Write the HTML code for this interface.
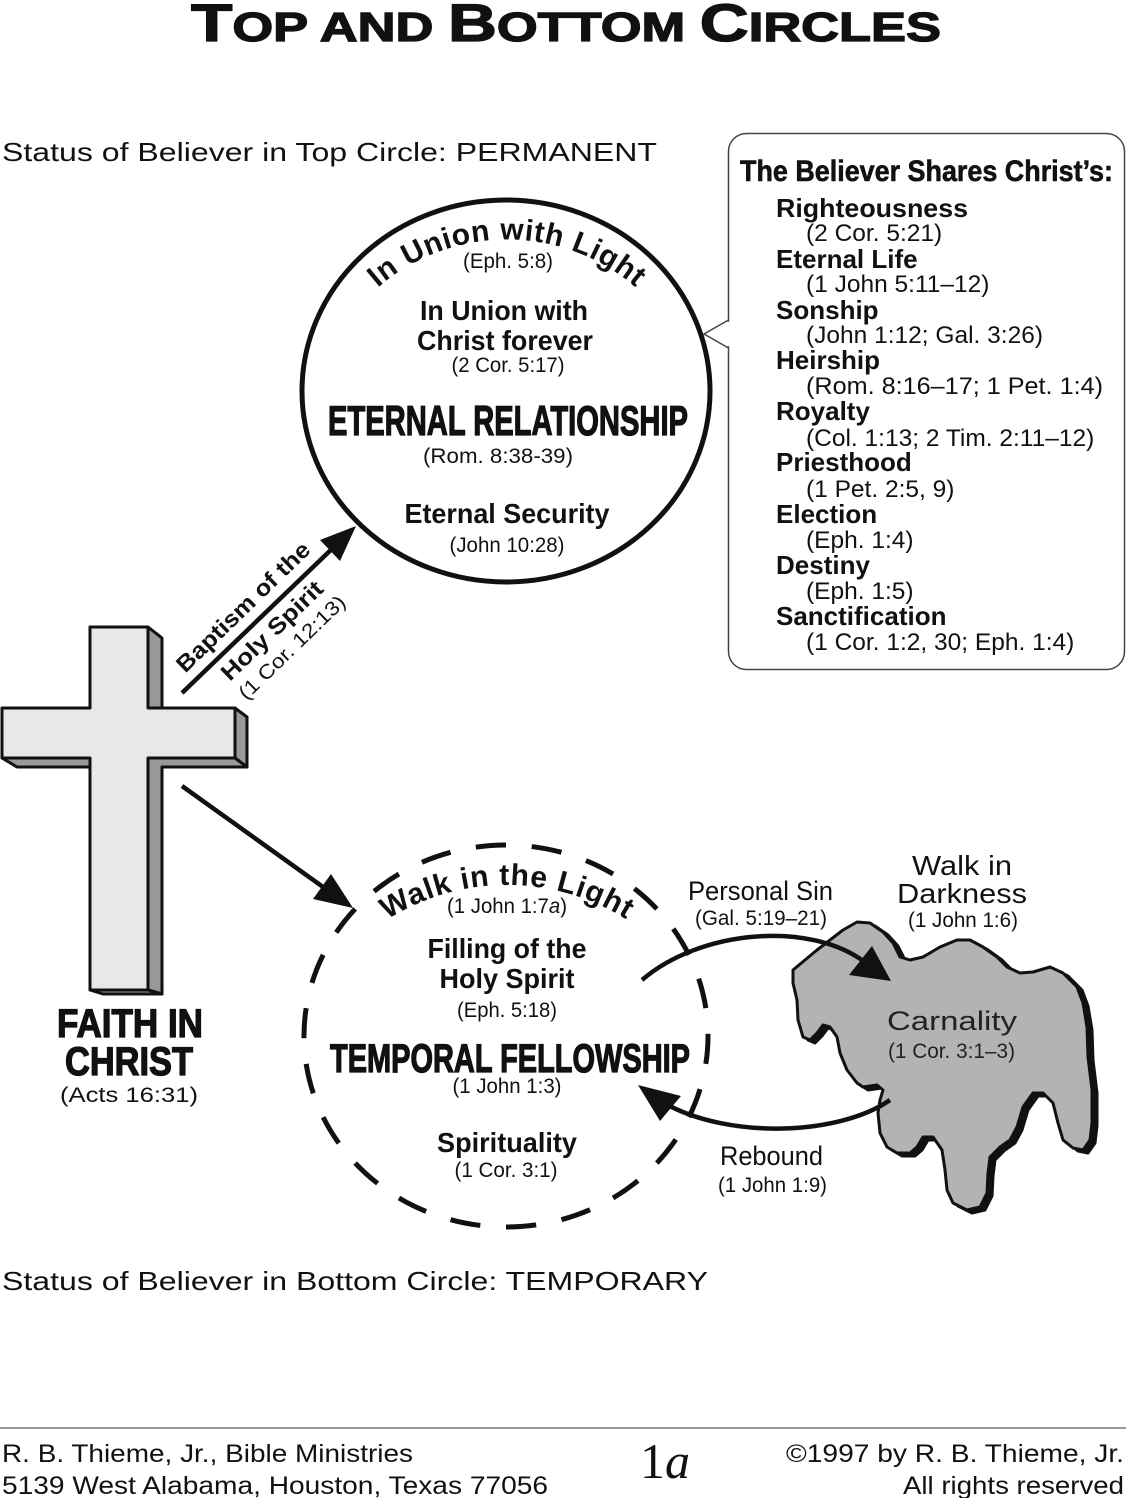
<!DOCTYPE html>
<html><head><meta charset="utf-8"><style>
html,body{margin:0;padding:0;background:#fff;}
svg{display:block;}
text{font-family:"Liberation Sans",Arial,sans-serif;fill:#111;}
.b{font-weight:bold;}
.h{font-weight:bold;stroke:#111;stroke-width:1.3;}
.r{font-size:21px;}
</style></head><body>
<svg width="1126" height="1498" viewBox="0 0 1126 1498" xmlns="http://www.w3.org/2000/svg">
<defs>
<path id="arcTop" d="M 356 310 A 197 197 0 0 1 658 310"/>
<path id="arcBot" d="M 313 997 A 224 224 0 0 1 701 997"/>
</defs>

<!-- Title -->
<text x="191" y="41" font-size="53" class="h" textLength="750" lengthAdjust="spacingAndGlyphs">T<tspan font-size="41">OP AND </tspan>B<tspan font-size="41">OTTOM </tspan>C<tspan font-size="41">IRCLES</tspan></text>

<!-- Status lines -->
<text x="2" y="161" font-size="26" textLength="655" lengthAdjust="spacingAndGlyphs">Status of Believer in Top Circle: PERMANENT</text>
<text x="2" y="1290" font-size="26" textLength="706" lengthAdjust="spacingAndGlyphs">Status of Believer in Bottom Circle: TEMPORARY</text>

<!-- Top circle -->
<ellipse cx="506" cy="391" rx="204" ry="191" fill="none" stroke="#111" stroke-width="5"/>
<text class="b" font-size="30" letter-spacing="0.6"><textPath href="#arcTop" startOffset="50%" text-anchor="middle">In Union with Light</textPath></text>
<text class="r" x="508" y="268" text-anchor="middle" textLength="90" lengthAdjust="spacingAndGlyphs">(Eph. 5:8)</text>
<text class="b" font-size="28" x="504" y="320" text-anchor="middle" textLength="168" lengthAdjust="spacingAndGlyphs">In Union with</text>
<text class="b" font-size="28" x="505" y="350" text-anchor="middle" textLength="176" lengthAdjust="spacingAndGlyphs">Christ forever</text>
<text class="r" x="508" y="372" text-anchor="middle" textLength="113" lengthAdjust="spacingAndGlyphs">(2 Cor. 5:17)</text>
<text class="h" font-size="42" x="328" y="435" textLength="360" lengthAdjust="spacingAndGlyphs">ETERNAL RELATIONSHIP</text>
<text class="r" x="498" y="463" text-anchor="middle" textLength="150" lengthAdjust="spacingAndGlyphs">(Rom. 8:38-39)</text>
<text class="b" font-size="28" x="507" y="523" text-anchor="middle" textLength="205" lengthAdjust="spacingAndGlyphs">Eternal Security</text>
<text class="r" x="507" y="552" text-anchor="middle" textLength="115" lengthAdjust="spacingAndGlyphs">(John 10:28)</text>

<!-- Callout box -->
<rect x="728.5" y="133.5" width="396" height="536" rx="18" ry="18" fill="#fff" stroke="#444" stroke-width="1.5"/>
<polygon points="730,321 705,334 730,347" fill="#fff"/>
<polyline points="728.5,320 704,334 728.5,348" fill="none" stroke="#444" stroke-width="1.5"/>
<text class="b" font-size="30" x="740" y="181" textLength="373" lengthAdjust="spacingAndGlyphs" stroke="#111" stroke-width="0.6">The Believer Shares Christ’s:</text>
<g font-size="26" class="b">
<text x="776" y="217" textLength="192" lengthAdjust="spacingAndGlyphs">Righteousness</text>
<text x="776" y="268">Eternal Life</text>
<text x="776" y="319">Sonship</text>
<text x="776" y="369">Heirship</text>
<text x="776" y="420">Royalty</text>
<text x="776" y="471">Priesthood</text>
<text x="776" y="523">Election</text>
<text x="776" y="574">Destiny</text>
<text x="776" y="625">Sanctification</text>
</g>
<g font-size="24.5">
<text x="806" y="241">(2 Cor. 5:21)</text>
<text x="806" y="292">(1 John 5:11–12)</text>
<text x="806" y="343">(John 1:12; Gal. 3:26)</text>
<text x="806" y="394" textLength="297" lengthAdjust="spacingAndGlyphs">(Rom. 8:16–17; 1 Pet. 1:4)</text>
<text x="806" y="446">(Col. 1:13; 2 Tim. 2:11–12)</text>
<text x="806" y="497">(1 Pet. 2:5, 9)</text>
<text x="806" y="548">(Eph. 1:4)</text>
<text x="806" y="599">(Eph. 1:5)</text>
<text x="806" y="650">(1 Cor. 1:2, 30; Eph. 1:4)</text>
</g>

<!-- Cross -->
<g stroke="#111" stroke-width="3" stroke-linejoin="round">
<polygon points="148,627 162,638 162,708 148,708" fill="#999"/>
<polygon points="235,708 247,717 247,767 235,758" fill="#999"/>
<polygon points="148,758 235,758 247,767 162,767 162,994 148,990" fill="#999"/>
<polygon points="2,758 90,758 90,767 17,767" fill="#999"/>
<polygon points="90,990 148,990 162,994 103,994" fill="#999"/>
<polygon points="90,627 148,627 148,708 235,708 235,758 148,758 148,990 90,990 90,758 2,758 2,708 90,708" fill="#e8e8e8"/>
</g>
<text class="h" font-size="40" x="57" y="1037" textLength="146" lengthAdjust="spacingAndGlyphs">FAITH IN</text>
<text class="h" font-size="40" x="65" y="1075" textLength="128" lengthAdjust="spacingAndGlyphs">CHRIST</text>
<text class="r" x="60" y="1102" textLength="138" lengthAdjust="spacingAndGlyphs">(Acts 16:31)</text>

<!-- Arrows from cross -->
<line x1="182" y1="693" x2="336" y2="545" stroke="#111" stroke-width="4.5"/>
<polygon points="356,526 340,561 320,540" fill="#111"/>
<line x1="182" y1="786" x2="330" y2="892" stroke="#111" stroke-width="4.5"/>
<polygon points="353,908 313,899 331,874" fill="#111"/>

<text class="b" font-size="23" transform="translate(248.6,612.5) rotate(-44)" text-anchor="middle" textLength="176" lengthAdjust="spacingAndGlyphs">Baptism of the</text>
<text class="b" font-size="23" transform="translate(277.4,636.2) rotate(-44)" text-anchor="middle" textLength="132" lengthAdjust="spacingAndGlyphs">Holy Spirit</text>
<text font-size="20" transform="translate(296.6,652.3) rotate(-44)" text-anchor="middle" textLength="140" lengthAdjust="spacingAndGlyphs">(1 Cor. 12:13)</text>

<!-- Bottom dashed circle -->
<ellipse cx="506" cy="1036" rx="202" ry="191" fill="none" stroke="#111" stroke-width="5" pathLength="1100" stroke-dasharray="27 23" stroke-dashoffset="2"/>
<text class="b" font-size="30" letter-spacing="0.8"><textPath href="#arcBot" startOffset="50%" text-anchor="middle">Walk in the Light</textPath></text>
<text class="r" x="507" y="913" text-anchor="middle" textLength="120" lengthAdjust="spacingAndGlyphs">(1 John 1:7<tspan font-style="italic">a</tspan>)</text>
<text class="b" font-size="28" x="507" y="958" text-anchor="middle" textLength="159" lengthAdjust="spacingAndGlyphs">Filling of the</text>
<text class="b" font-size="28" x="507" y="988" text-anchor="middle" textLength="135" lengthAdjust="spacingAndGlyphs">Holy Spirit</text>
<text class="r" x="507" y="1017" text-anchor="middle" textLength="100" lengthAdjust="spacingAndGlyphs">(Eph. 5:18)</text>
<text class="h" font-size="40" x="330" y="1072" textLength="360" lengthAdjust="spacingAndGlyphs">TEMPORAL FELLOWSHIP</text>
<text class="r" x="507" y="1093" text-anchor="middle" textLength="109" lengthAdjust="spacingAndGlyphs">(1 John 1:3)</text>
<text class="b" font-size="28" x="507" y="1152" text-anchor="middle" textLength="140" lengthAdjust="spacingAndGlyphs">Spirituality</text>
<text class="r" x="506" y="1177" text-anchor="middle" textLength="103" lengthAdjust="spacingAndGlyphs">(1 Cor. 3:1)</text>

<!-- Carnality blob -->
<g stroke-linejoin="round">
<polygon transform="translate(5,3)" fill="#111" stroke="#111" stroke-width="3" points="793,970 805,960 817,950 830,940 843,930 857,922 870,923 883,932 893,943 900,957 910,960 923,957 940,947 957,940 970,940 983,947 997,957 1007,967 1020,973 1033,972 1050,967 1063,973 1077,987 1083,1003 1087,1027 1088,1057 1092,1090 1092,1123 1090,1140 1083,1150 1073,1148 1063,1140 1058,1123 1053,1103 1043,1093 1033,1093 1023,1107 1017,1127 1010,1140 1000,1147 990,1157 988,1173 987,1193 980,1207 967,1210 953,1203 947,1190 945,1170 942,1150 933,1137 923,1137 917,1147 910,1153 897,1153 887,1147 880,1133 878,1113 880,1100 883,1090 877,1085 863,1087 857,1083 847,1070 840,1053 837,1037 830,1027 823,1025 817,1033 810,1040 803,1037 798,1020 797,1000 793,983"/>
<polygon fill="#b3b3b3" stroke="#111" stroke-width="3" points="793,970 805,960 817,950 830,940 843,930 857,922 870,923 883,932 893,943 900,957 910,960 923,957 940,947 957,940 970,940 983,947 997,957 1007,967 1020,973 1033,972 1050,967 1063,973 1077,987 1083,1003 1087,1027 1088,1057 1092,1090 1092,1123 1090,1140 1083,1150 1073,1148 1063,1140 1058,1123 1053,1103 1043,1093 1033,1093 1023,1107 1017,1127 1010,1140 1000,1147 990,1157 988,1173 987,1193 980,1207 967,1210 953,1203 947,1190 945,1170 942,1150 933,1137 923,1137 917,1147 910,1153 897,1153 887,1147 880,1133 878,1113 880,1100 883,1090 877,1085 863,1087 857,1083 847,1070 840,1053 837,1037 830,1027 823,1025 817,1033 810,1040 803,1037 798,1020 797,1000 793,983"/>
</g>
<text font-size="27" x="887" y="1030" textLength="130" lengthAdjust="spacingAndGlyphs" style="fill:#222">Carnality</text>
<text class="r" x="888" y="1058" textLength="127" lengthAdjust="spacingAndGlyphs" style="fill:#222">(1 Cor. 3:1–3)</text>

<!-- Personal Sin / Rebound arcs -->
<path d="M642,980 C700,930 810,920 866,963" fill="none" stroke="#111" stroke-width="4.5"/>
<polygon points="891,981 849,975 872,946" fill="#111"/>
<path d="M890,1100 C840,1135 730,1140 664,1103" fill="none" stroke="#111" stroke-width="4.5"/>
<polygon points="638,1085 660,1121 681,1096" fill="#111"/>

<text font-size="27" x="688" y="900" textLength="145" lengthAdjust="spacingAndGlyphs">Personal Sin</text>
<text class="r" x="695" y="925" textLength="132" lengthAdjust="spacingAndGlyphs">(Gal. 5:19–21)</text>
<text font-size="28" x="912" y="875" textLength="100" lengthAdjust="spacingAndGlyphs">Walk in</text>
<text font-size="28" x="897" y="903" textLength="130" lengthAdjust="spacingAndGlyphs">Darkness</text>
<text class="r" x="908" y="927" textLength="110" lengthAdjust="spacingAndGlyphs">(1 John 1:6)</text>
<text font-size="27" x="720" y="1165" textLength="103" lengthAdjust="spacingAndGlyphs">Rebound</text>
<text class="r" x="718" y="1192" textLength="109" lengthAdjust="spacingAndGlyphs">(1 John 1:9)</text>

<!-- Footer -->
<line x1="0" y1="1428" x2="1126" y2="1428" stroke="#777" stroke-width="1.5"/>
<text font-size="25" x="2" y="1462" textLength="411" lengthAdjust="spacingAndGlyphs">R. B. Thieme, Jr., Bible Ministries</text>
<text font-size="25" x="2" y="1494" textLength="546" lengthAdjust="spacingAndGlyphs">5139 West Alabama, Houston, Texas 77056</text>
<text font-size="25" x="1124" y="1462" text-anchor="end" textLength="338" lengthAdjust="spacingAndGlyphs">©1997 by R. B. Thieme, Jr.</text>
<text font-size="25" x="1124" y="1494" text-anchor="end" textLength="221" lengthAdjust="spacingAndGlyphs">All rights reserved</text>
<text x="640" y="1478" font-size="50" style="font-family:'Liberation Serif',serif;">1<tspan font-style="italic">a</tspan></text>
</svg>
</body></html>
